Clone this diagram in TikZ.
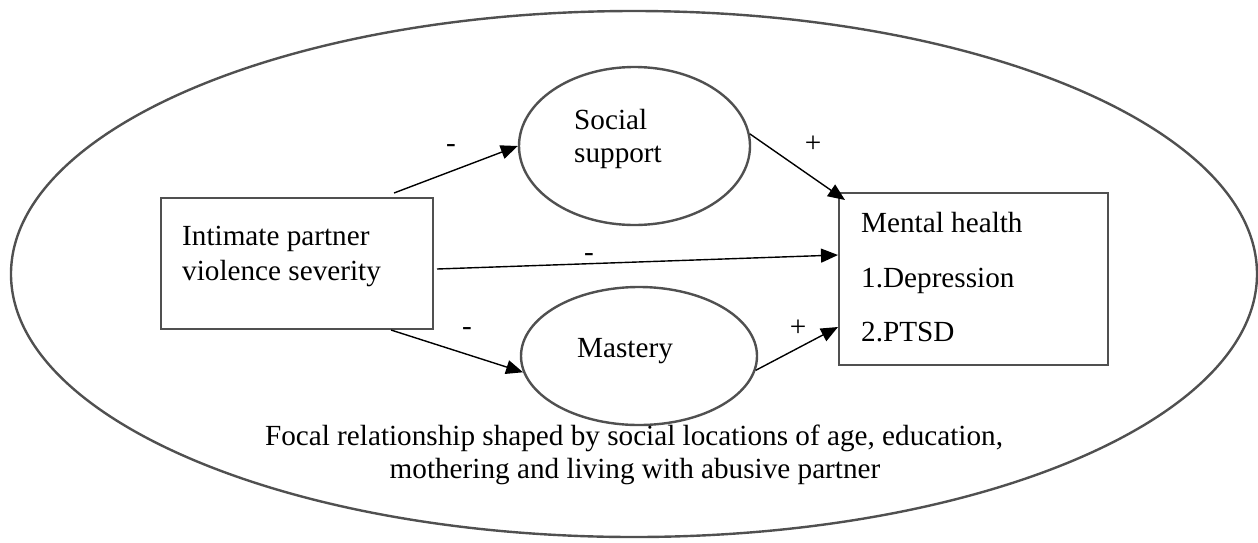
\documentclass[tikz,border=0pt]{standalone}
\usepackage{fontspec}
\setmainfont{Liberation Serif}
\usetikzlibrary{shapes.geometric,arrows.meta}
\definecolor{outl}{RGB}{80,80,80}
\tikzset{
  bx/.style={draw=outl, line width=2.4pt, rectangle, inner sep=0pt},
  ov/.style={draw=outl, line width=2.4pt, ellipse, inner sep=0pt},
  txt/.style={anchor=base west, inner sep=0pt, font=\fontsize{29.2}{35}\selectfont},
  ctxt/.style={anchor=base, inner sep=0pt, font=\fontsize{29.2}{35}\selectfont},
  sgn/.style={anchor=base, inner sep=0pt, font=\fontsize{29.2}{35}\selectfont},
  arr/.style={draw=black, line width=1.4pt, -{Triangle[length=17pt,width=14pt]}}
}
\begin{document}
\begin{tikzpicture}[x=1pt,y=-1pt]
\useasboundingbox (0,0) rectangle (1258,542);
% outer context ellipse
\node[ov, minimum width=1246, minimum height=526] (ctx) at (634,274) {};
% boxes and ellipses
\node[bx, minimum width=272, minimum height=131] (ipv) at (297,263.5) {};
\node[bx, minimum width=269, minimum height=172] (mh) at (973.5,279) {};
\node[ov, minimum width=231, minimum height=158] (ss) at (634.5,146) {};
\node[ov, minimum width=236, minimum height=138] (mas) at (639,356) {};
% texts
\node[txt] (t1) at (182,245) {Intimate partner};
\node[txt] (t2) at (182,280) {violence severity};
\node[txt] (t3) at (574,129) {Social};
\node[txt] (t4) at (574,162) {support};
\node[txt] (t5) at (577,357) {Mastery};
\node[txt] (t6) at (861,232) {Mental health};
\node[txt] (t7) at (861,287) {1.Depression};
\node[txt] (t8) at (861,341) {2.PTSD};
\node[ctxt] (b1) at (634,445) {Focal relationship shaped by social locations of age, education,};
\node[ctxt] (b2) at (635,478) {mothering and living with abusive partner};
% connector ends
\coordinate (s1) at (394,193);
\coordinate (s3) at (437,269);
\coordinate (s4) at (391,330);
\coordinate (e2) at (845,200);
\coordinate (e3) at (838,255);
\coordinate (e5) at (838,327);
% connectors
\draw[arr] (s1) -- (ss.west);
\draw[arr] (ss.6) -- (e2);
\draw[arr] (s3) -- (e3);
\draw[arr] (s4) -- (mas.188);
\draw[arr] (mas.-7) -- (e5);
% signs
\node[sgn] (l1) at (451,152.5) {-};
\node[sgn] (l2) at (813,152) {+};
\node[sgn] (l3) at (589,261.5) {-};
\node[sgn] (l4) at (467,335.5) {-};
\node[sgn] (l5) at (798,336) {+};
\end{tikzpicture}
\end{document}
